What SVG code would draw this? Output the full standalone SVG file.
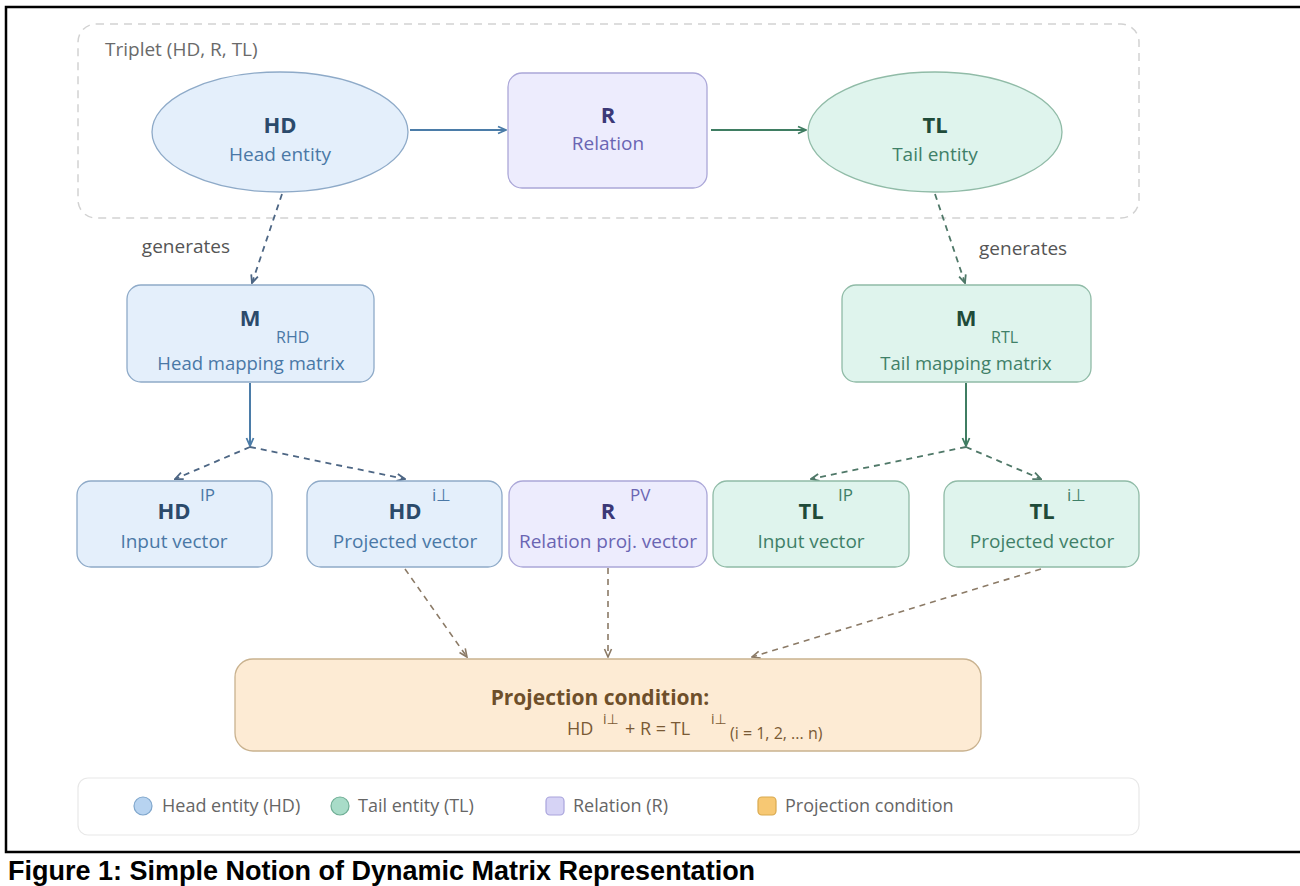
<svg xmlns="http://www.w3.org/2000/svg" width="1300" height="886" viewBox="0 0 1300 886">
<style>
text{font-family:"Open Sans","Noto Sans","DejaVu Sans",sans-serif}
.ttl{font-size:22px;font-weight:bold;text-anchor:middle}
.sub{font-size:19px;text-anchor:middle}
.sup{font-size:17px}
.hd .ttl{fill:#2b4a6b}.hd .sub,.hd .sup{fill:#4a78a6}
.hd rect,.hd ellipse{fill:#e4effb;stroke:#8eaac8;stroke-width:1.3}
.rl .ttl{fill:#3b3877}.rl .sub,.rl .sup{fill:#6a65b3}
.rl rect{fill:#edecfd;stroke:#aba7d8;stroke-width:1.3}
.tl .ttl{fill:#1f4b39}.tl .sub,.tl .sup{fill:#3f8068}
.tl rect,.tl ellipse{fill:#dff4ed;stroke:#90bba7;stroke-width:1.3}
.solidb{stroke:#4b7ca8;stroke-width:2;fill:none}
.solidg{stroke:#3f7d62;stroke-width:2;fill:none}
.dashb{stroke:#4d6684;stroke-width:1.8;fill:none;stroke-dasharray:6 5}
.dashg{stroke:#4f7868;stroke-width:1.8;fill:none;stroke-dasharray:6 5}
.dashp{stroke:#8b7a66;stroke-width:1.6;fill:none;stroke-dasharray:6 5}
.lbl{font-size:19px;fill:#555}
.leg{font-size:18px;fill:#666}
.frm{font-size:18px;fill:#7a5a35}
.frs{font-size:14px;fill:#7a5a35}
</style>
<defs>
<marker id="mb" viewBox="0 0 10 10" refX="9" refY="5" markerWidth="10" markerHeight="10" markerUnits="userSpaceOnUse" orient="auto"><path d="M1,1.5 L9,5 L1,8.5" fill="none" stroke="#4b7ca8" stroke-width="1.8"/></marker>
<marker id="mg" viewBox="0 0 10 10" refX="9" refY="5" markerWidth="10" markerHeight="10" markerUnits="userSpaceOnUse" orient="auto"><path d="M1,1.5 L9,5 L1,8.5" fill="none" stroke="#3f7d62" stroke-width="1.8"/></marker>
<marker id="mdb" viewBox="0 0 10 10" refX="9" refY="5" markerWidth="10" markerHeight="10" markerUnits="userSpaceOnUse" orient="auto"><path d="M1,1.5 L9,5 L1,8.5" fill="none" stroke="#4d6684" stroke-width="1.8"/></marker>
<marker id="mdg" viewBox="0 0 10 10" refX="9" refY="5" markerWidth="10" markerHeight="10" markerUnits="userSpaceOnUse" orient="auto"><path d="M1,1.5 L9,5 L1,8.5" fill="none" stroke="#4f7868" stroke-width="1.8"/></marker>
<marker id="mdp" viewBox="0 0 10 10" refX="9" refY="5" markerWidth="10" markerHeight="10" markerUnits="userSpaceOnUse" orient="auto"><path d="M1,1.5 L9,5 L1,8.5" fill="none" stroke="#8b7a66" stroke-width="1.6"/></marker>
</defs>
<rect width="1300" height="886" fill="#fff"/>
<g id="frame" stroke="#000" stroke-width="2.5" fill="none">
<path d="M1300,7 H6 V852 H1300"/>
</g>
<text x="8" y="880" style="font-family:'Liberation Sans',Arial,sans-serif;font-size:27px;font-weight:bold;fill:#000">Figure 1: Simple Notion of Dynamic Matrix Representation</text>

<g id="triplet">
<rect x="78" y="24" width="1061" height="194" rx="18" fill="none" stroke="#d2d2d2" stroke-width="1.5" stroke-dasharray="8 6"/>
<text x="105" y="56" style="font-size:19px;fill:#6a6a6a">Triplet (HD, R, TL)</text>
</g>

<g id="connectors">
<line class="solidb" x1="410" y1="130" x2="506" y2="130" marker-end="url(#mb)"/>
<line class="solidg" x1="711" y1="130" x2="806" y2="130" marker-end="url(#mg)"/>
<line class="dashb" x1="282" y1="194" x2="252" y2="283" marker-end="url(#mdb)"/>
<line class="dashg" x1="935" y1="194" x2="965" y2="283" marker-end="url(#mdg)"/>
<line class="solidb" x1="250" y1="383" x2="250" y2="446" marker-end="url(#mb)"/>
<line class="solidg" x1="966" y1="383" x2="966" y2="446" marker-end="url(#mg)"/>
<line class="dashb" x1="250" y1="447" x2="175" y2="479" marker-end="url(#mdb)"/>
<line class="dashb" x1="250" y1="447" x2="405" y2="479" marker-end="url(#mdb)"/>
<line class="dashg" x1="966" y1="447" x2="811" y2="479" marker-end="url(#mdg)"/>
<line class="dashg" x1="966" y1="447" x2="1041" y2="479" marker-end="url(#mdg)"/>
<line class="dashp" x1="405" y1="569" x2="467" y2="657" marker-end="url(#mdp)"/>
<line class="dashp" x1="608" y1="568" x2="608" y2="657" marker-end="url(#mdp)"/>
<line class="dashp" x1="1041" y1="569" x2="752" y2="657" marker-end="url(#mdp)"/>
<text class="lbl" x="230" y="253" text-anchor="end">generates</text>
<text class="lbl" x="979" y="255">generates</text>
</g>

<g id="node-hd" class="hd">
<ellipse cx="280" cy="132" rx="128" ry="60"/>
<text class="ttl" x="280" y="133">HD</text>
<text class="sub" x="280" y="161">Head entity</text>
</g>
<g id="node-r" class="rl">
<rect x="508" y="73" width="199" height="115" rx="14"/>
<text class="ttl" x="608" y="123">R</text>
<text class="sub" x="608" y="150">Relation</text>
</g>
<g id="node-tl" class="tl">
<ellipse cx="935" cy="132" rx="127" ry="60"/>
<text class="ttl" x="935" y="133">TL</text>
<text class="sub" x="935" y="161">Tail entity</text>
</g>

<g id="node-mrhd" class="hd">
<rect x="127" y="285" width="247" height="97" rx="14"/>
<text class="ttl" x="250" y="326">M</text>
<text class="sup" x="276" y="343" style="font-size:16px">RHD</text>
<text class="sub" x="251" y="370" style="font-size:18.5px">Head mapping matrix</text>
</g>
<g id="node-mrtl" class="tl">
<rect x="842" y="285" width="249" height="97" rx="14"/>
<text class="ttl" x="966" y="326">M</text>
<text class="sup" x="991" y="343" style="font-size:16px">RTL</text>
<text class="sub" x="966" y="370" style="font-size:18.5px">Tail mapping matrix</text>
</g>

<g id="node-hdip" class="hd">
<rect x="77" y="481" width="195" height="86" rx="14"/>
<text class="ttl" x="174" y="519">HD</text>
<text class="sup" x="200" y="501">IP</text>
<text class="sub" x="174" y="548">Input vector</text>
</g>
<g id="node-hdperp" class="hd">
<rect x="307" y="481" width="195" height="86" rx="14"/>
<text class="ttl" x="405" y="519">HD</text>
<text class="sup" x="432" y="501">i⊥</text>
<text class="sub" x="405" y="548">Projected vector</text>
</g>
<g id="node-rpv" class="rl">
<rect x="509" y="481" width="198" height="86" rx="14"/>
<text class="ttl" x="608" y="519">R</text>
<text class="sup" x="630" y="501">PV</text>
<text class="sub" x="608" y="548">Relation proj. vector</text>
</g>
<g id="node-tlip" class="tl">
<rect x="713" y="481" width="196" height="86" rx="14"/>
<text class="ttl" x="811" y="519">TL</text>
<text class="sup" x="838" y="501">IP</text>
<text class="sub" x="811" y="548">Input vector</text>
</g>
<g id="node-tlperp" class="tl">
<rect x="944" y="481" width="195" height="86" rx="14"/>
<text class="ttl" x="1042" y="519">TL</text>
<text class="sup" x="1067" y="501">i⊥</text>
<text class="sub" x="1042" y="548">Projected vector</text>
</g>

<g id="node-proj">
<rect x="235" y="659" width="746" height="92" rx="18" fill="#fdebd4" stroke="#c9b28f" stroke-width="1.3"/>
<text x="600" y="705" style="font-size:21px;font-weight:bold;fill:#6e4f2a;text-anchor:middle">Projection condition:</text>
<text class="frm" x="567" y="735">HD</text>
<text class="frs" x="603" y="724">i⊥</text>
<text class="frm" x="625" y="735">+ R = TL</text>
<text class="frs" x="711" y="724">i⊥</text>
<text class="frm" x="730" y="739" style="font-size:16px">(i = 1, 2, ... n)</text>
</g>

<g id="legend">
<rect x="78" y="778" width="1061" height="57" rx="10" fill="#fff" stroke="#e8e8e8" stroke-width="1.2"/>
<circle cx="143" cy="806" r="9" fill="#b7d3f0" stroke="#7fa6cc" stroke-width="1.2"/>
<text class="leg" x="162" y="812">Head entity (HD)</text>
<circle cx="340" cy="806" r="9" fill="#a8dcc8" stroke="#6fae95" stroke-width="1.2"/>
<text class="leg" x="358" y="812">Tail entity (TL)</text>
<rect x="546" y="797" width="18" height="18" rx="4" fill="#d6d3f5" stroke="#a9a4dc" stroke-width="1.2"/>
<text class="leg" x="573" y="812">Relation (R)</text>
<rect x="758" y="797" width="18" height="18" rx="4" fill="#f7c873" stroke="#d9a94e" stroke-width="1.2"/>
<text class="leg" x="785" y="812">Projection condition</text>
</g>
</svg>
